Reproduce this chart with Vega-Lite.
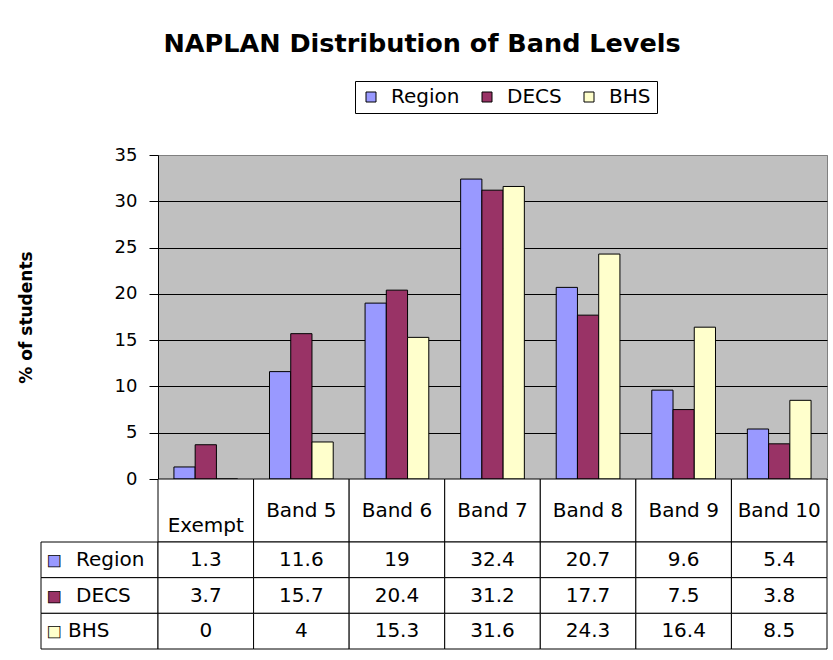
{
  "$schema": "https://vega.github.io/schema/vega-lite/v6.json",
  "background": "white",
  "padding": {"left": 16, "top": 32, "right": 0, "bottom": 0},
  "title": {"text": "NAPLAN Distribution of Band Levels", "font": "DejaVu Sans", "fontSize": 25.5, "fontWeight": "bold", "color": "black", "anchor": "middle", "offset": 23},
  "datasets": {
    "d": [
      {"band": "Exempt", "series": "Region", "value": 1.3},
      {"band": "Exempt", "series": "DECS", "value": 3.7},
      {"band": "Exempt", "series": "BHS", "value": 0},
      {"band": "Band 5", "series": "Region", "value": 11.6},
      {"band": "Band 5", "series": "DECS", "value": 15.7},
      {"band": "Band 5", "series": "BHS", "value": 4},
      {"band": "Band 6", "series": "Region", "value": 19},
      {"band": "Band 6", "series": "DECS", "value": 20.4},
      {"band": "Band 6", "series": "BHS", "value": 15.3},
      {"band": "Band 7", "series": "Region", "value": 32.4},
      {"band": "Band 7", "series": "DECS", "value": 31.2},
      {"band": "Band 7", "series": "BHS", "value": 31.6},
      {"band": "Band 8", "series": "Region", "value": 20.7},
      {"band": "Band 8", "series": "DECS", "value": 17.7},
      {"band": "Band 8", "series": "BHS", "value": 24.3},
      {"band": "Band 9", "series": "Region", "value": 9.6},
      {"band": "Band 9", "series": "DECS", "value": 7.5},
      {"band": "Band 9", "series": "BHS", "value": 16.4},
      {"band": "Band 10", "series": "Region", "value": 5.4},
      {"band": "Band 10", "series": "DECS", "value": 3.8},
      {"band": "Band 10", "series": "BHS", "value": 8.5}
    ]
  },
  "columns": 2,
  "spacing": 0,
  "bounds": "flush",
  "concat": [
    {"width": 117, "height": 324, "data": {"values": []}, "mark": "point"},
    {
      "width": 669, "height": 324,
      "view": {"fill": "#C0C0C0", "stroke": "#808080"},
      "data": {"name": "d"},
      "mark": {"type": "bar", "stroke": "black", "strokeWidth": 1},
      "encoding": {
        "x": {"field": "band", "type": "nominal", "scale": {"domain": ["Exempt", "Band 5", "Band 6", "Band 7", "Band 8", "Band 9", "Band 10"], "paddingInner": 0.3333, "paddingOuter": 0.1667}, "axis": null},
        "xOffset": {"field": "series", "type": "nominal", "scale": {"domain": ["Region", "DECS", "BHS"], "paddingInner": 0, "paddingOuter": 0}},
        "y": {"field": "value", "type": "quantitative", "scale": {"domain": [0, 35], "nice": false},
          "axis": {"title": "% of students", "values": [0, 5, 10, 15, 20, 25, 30, 35], "grid": true,
            "gridColor": {"condition": {"test": "datum.value === 35", "value": "#808080"}, "value": "black"},
            "gridOpacity": 1, "domainColor": "black", "tickColor": "black", "tickSize": 9, "labelPadding": 12,
            "labelFont": "DejaVu Sans", "labelFontSize": 18, "labelColor": "black",
            "titleFont": "DejaVu Sans", "titleFontSize": 17, "titleFontWeight": "bold", "titleColor": "black", "titlePadding": 79}},
        "color": {"field": "series", "type": "nominal", "scale": {"domain": ["Region", "DECS", "BHS"], "range": ["#9999FF", "#993366", "#FFFFCC"]},
          "legend": {"orient": "none", "legendX": 314, "legendY": -74, "direction": "horizontal", "title": null,
            "symbolType": "square", "symbolSize": 100, "symbolStrokeColor": "black", "symbolStrokeWidth": 1,
            "labelFont": "DejaVu Sans", "labelFontSize": 20, "labelColor": "black", "labelOffset": 10, "columnPadding": 17,
            "strokeColor": "black", "fillColor": "white", "padding": 6}}
      }
    },
    {"width": 117, "height": 63, "data": {"values": []}, "mark": "point"},
    {
      "width": 669, "height": 63,
      "data": {"name": "d"},
      "transform": [{"filter": "datum.series === 'Region'"}],
      "encoding": {
        "x": {"field": "band", "type": "nominal", "scale": {"domain": ["Exempt", "Band 5", "Band 6", "Band 7", "Band 8", "Band 9", "Band 10"], "paddingInner": 0, "paddingOuter": 0}, "axis": null}
      },
      "layer": [
        {"mark": {"type": "rect", "fill": "white", "stroke": "black", "strokeWidth": 1}},
        {"transform": [{"filter": "datum.band !== 'Exempt'"}], "mark": {"type": "text", "font": "DejaVu Sans", "fontSize": 20, "color": "black"}, "encoding": {"text": {"field": "band", "type": "nominal"}}},
        {"transform": [{"filter": "datum.band === 'Exempt'"}], "mark": {"type": "text", "font": "DejaVu Sans", "fontSize": 20, "color": "black", "dy": 15}, "encoding": {"text": {"field": "band", "type": "nominal"}}}
      ]
    },
    {
      "width": 117, "height": 107,
      "data": {"name": "d"},
      "transform": [{"filter": "datum.band === 'Exempt'"}],
      "encoding": {
        "y": {"field": "series", "type": "nominal", "scale": {"domain": ["Region", "DECS", "BHS"], "paddingInner": 0, "paddingOuter": 0}, "axis": null}
      },
      "layer": [
        {"mark": {"type": "rect", "fill": "white", "stroke": "black", "strokeWidth": 1}},
        {"mark": {"type": "text", "text": "■", "font": "DejaVu Sans", "fontSize": 15, "align": "center", "dx": -45.5, "stroke": "black", "strokeWidth": 0.8},
          "encoding": {"color": {"field": "series", "type": "nominal"}}},
        {"transform": [{"filter": "datum.series !== 'BHS'"}], "mark": {"type": "text", "font": "DejaVu Sans", "fontSize": 20, "align": "left", "dx": -23.5, "color": "black"}, "encoding": {"text": {"field": "series", "type": "nominal"}}},
        {"transform": [{"filter": "datum.series === 'BHS'"}], "mark": {"type": "text", "font": "DejaVu Sans", "fontSize": 20, "align": "left", "dx": -31.5, "color": "black"}, "encoding": {"text": {"field": "series", "type": "nominal"}}}
      ]
    },
    {
      "width": 669, "height": 107,
      "data": {"name": "d"},
      "encoding": {
        "x": {"field": "band", "type": "nominal", "scale": {"domain": ["Exempt", "Band 5", "Band 6", "Band 7", "Band 8", "Band 9", "Band 10"], "paddingInner": 0, "paddingOuter": 0}, "axis": null},
        "y": {"field": "series", "type": "nominal", "scale": {"domain": ["Region", "DECS", "BHS"], "paddingInner": 0, "paddingOuter": 0}, "axis": null}
      },
      "layer": [
        {"mark": {"type": "rect", "fill": "white", "stroke": "black", "strokeWidth": 1}},
        {"mark": {"type": "text", "font": "DejaVu Sans", "fontSize": 20, "color": "black"}, "encoding": {"text": {"field": "value", "type": "nominal"}}}
      ]
    }
  ],
  "config": {
    "view": {"stroke": null},
    "font": "DejaVu Sans"
  }
}
